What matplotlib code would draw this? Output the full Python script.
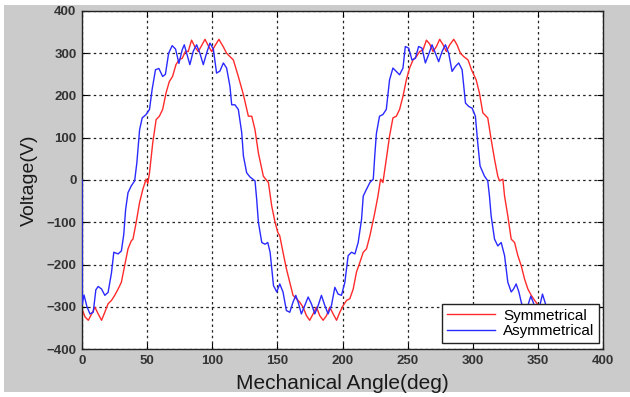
import matplotlib.pyplot as plt
from matplotlib.patches import Rectangle

# values (deg, V)
sym_angle = [0, 2.3, 4.8, 7.4, 9.9, 12.4, 15.0, 17.5, 20.0, 22.6, 25.1, 27.7, 30.2, 32.7,
             35.3, 37.8, 39.1, 41.6, 44.2, 46.7, 49.2, 50.5, 51.8, 54.3, 56.9, 59.4, 61.9,
             64.5, 67.0, 69.5, 72.1, 74.6, 76.9, 79.5, 81.5, 84.1, 86.7, 89.2, 91.8, 94.4,
             96.9, 99.5, 102.1, 105.1, 108.5, 111.0, 113.6, 116.2, 120.0, 123.9, 127.7,
             130.3, 132.8, 135.4, 139.2, 141.0, 143.1, 145.6, 148.2, 150.3, 151.8, 154.3,
             156.9, 159.5, 162.0, 164.6, 167.1, 169.7, 172.3, 174.8, 177.4, 180.0, 182.5,
             185.1, 187.7, 190.2, 192.8, 195.4, 197.9, 200.5, 203.1, 205.6, 208.2, 210.7,
             213.3, 215.9, 218.4, 221.0, 224.6, 227.2, 229.2, 231.0, 233.6, 236.1, 238.7,
             241.3, 243.8, 246.4, 249.0, 251.5, 254.1, 256.7, 259.2, 261.8, 264.4, 266.9,
             269.5, 272.1, 274.6, 277.2, 279.7, 282.3, 285.4, 287.9, 290.5, 293.1, 296.4,
             299.0, 302.6, 305.1, 307.7, 310.3, 311.5, 314.1, 316.7, 319.2, 320.5, 323.1,
             324.4, 326.9, 329.5, 332.1, 334.6, 337.2, 339.7, 342.3, 344.9, 347.5, 350.0,
             352.5, 355.0, 357.5, 360.0]
sym_volt = [-305, -324, -332, -317, -301, -317, -332, -313, -293, -285, -273, -258, -242, -203,
            -163, -144, -140, -100, -53, -22, 2, -8, 17, 88, 143, 151, 167,
            206, 233, 245, 273, 285, 288, 305, 304, 331, 315, 304, 318, 333,
            318, 304, 318, 333, 315, 300, 292, 284, 245, 202, 151,
            151, 119, 64, 9, 2, -6, -61, -100, -124, -132, -171,
            -210, -242, -273, -281, -289, -301, -321, -332, -317, -301, -321,
            -332, -321, -301, -317, -332, -313, -297, -285, -281, -258, -218,
            -195, -171, -163, -132, -80, -38, 2, -6, 49, 104, 147,
            151, 167, 198, 237, 265, 284, 292, 304, 308, 331, 322,
            304, 316, 333, 320, 304, 320, 333, 320, 300, 292, 284,
            261, 237, 206, 159, 151, 147, 96, 49, 9, -2, 2,
            -38, -85, -140, -148, -179, -203, -234, -258, -273, -285, -295,
            -315, -332, -317, -301]

asym_angle = [0, 0.1, 1.5, 3.8, 6.1, 8.6, 10.6, 12.4, 15.0, 17.5, 20.0, 22.6, 24.4, 27.7,
              30.2, 32.0, 33.5, 35.3, 37.8, 40.4, 42.1, 44.2, 46.2, 49.2, 51.8, 53.8, 56.4,
              59.0, 61.9, 64.0, 66.5, 69.2, 71.8, 74.4, 76.9, 78.5, 80.3, 82.8, 85.4, 88.0,
              90.5, 93.1, 95.6, 98.2, 100.8, 103.3, 105.9, 108.5, 111.0, 113.6, 114.9, 117.4,
              120.0, 122.6, 123.9, 126.4, 129.0, 132.8, 134.1, 135.4, 138.0, 140.5, 142.6,
              144.4, 147.0, 149.5, 151.8, 154.3, 156.9, 159.5, 162.0, 164.1, 165.9, 168.4,
              171.0, 173.6, 176.1, 178.7, 181.3, 183.8, 186.4, 188.9, 191.5, 194.1, 196.6,
              199.2, 201.8, 204.3, 206.9, 209.5, 212.0, 214.6, 215.9, 218.4, 221.0, 223.6,
              224.8, 226.0, 228.4, 231.0, 233.6, 236.1, 238.7, 241.3, 243.8, 246.4, 248.2,
              250.8, 253.3, 255.9, 258.4, 261.0, 263.6, 266.1, 268.7, 271.3, 273.8, 276.4,
              279.0, 281.5, 284.1, 286.7, 289.2, 291.8, 294.4, 296.9, 299.5, 302.0, 303.8,
              305.6, 309.0, 311.5, 312.8, 314.1, 316.7, 319.2, 321.8, 324.4, 326.9, 329.5,
              331.3, 333.3, 335.4, 337.2, 339.5, 342.0, 344.5, 346.5, 349.0, 351.5, 353.5,
              356.0, 358.5, 360.0]
asym_volt = [0, -295, -272, -300, -317, -313, -260, -252, -258, -273, -266, -220, -171, -175,
             -168, -130, -69, -30, -14, -2, 41, 119, 147, 155, 167, 214, 261,
             264, 245, 250, 300, 318, 310, 276, 308, 320, 300, 273, 305, 320,
             300, 273, 300, 324, 310, 253, 258, 277, 265, 221, 178, 178,
             167, 112, 57, 17, 7, -2, -46, -100, -148, -152, -148,
             -171, -250, -265, -246, -265, -309, -313, -289, -273, -289, -317,
             -297, -277, -293, -317, -297, -273, -297, -317, -297, -254, -270,
             -273, -242, -179, -171, -175, -148, -93, -38, -22, -6, 2,
             60, 110, 151, 155, 167, 237, 265, 257, 249, 265, 316,
             312, 284, 288, 316, 312, 277, 297, 320, 300, 280, 304,
             320, 300, 257, 269, 277, 261, 182, 174, 170, 151, 88,
             33, 9, -2, -38, -85, -140, -156, -148, -179, -242, -265,
             -258, -246, -265, -289, -313, -300, -275, -290, -317, -297, -270,
             -295, -317, -305]

x_ticks = [0, 50, 100, 150, 200, 250, 300, 350, 400]
y_ticks = [-400, -300, -200, -100, 0, 100, 200, 300, 400]

plt.rcParams['font.family'] = ['Liberation Sans', 'DejaVu Sans']

fig = plt.figure(figsize=(6.3, 3.97), dpi=100, facecolor='white')
# grey panel behind the plot, with a thin white margin like the screenshot
panel = Rectangle((4 / 630, 5 / 397), 626 / 630, 387 / 397,
                  transform=fig.transFigure, facecolor='#cbcbcb',
                  edgecolor='none', zorder=-10)
fig.add_artist(panel)

ax = fig.add_axes([0.1302, 0.1209, 0.827, 0.8514])
ax.set_facecolor('white')

ax.plot(sym_angle, sym_volt, color='#ff2a2a', lw=1.0, label='Symmetrical')
# blue sits above the spine so its jump at 0 deg shows like in the original
ax.plot(asym_angle, asym_volt, color='#2a2aff', lw=1.0, label='Asymmetrical', zorder=3)

ax.set_xlim(0, 400)
ax.set_ylim(-400, 400)
ax.set_xticks(x_ticks)
ax.set_yticks(y_ticks)
ax.grid(True, color='#222222', linestyle=(0, (2, 2.5)), linewidth=0.9)
ax.tick_params(direction='in', length=4, top=True, right=True,
               labelsize=9.5, labelcolor='#333333', pad=4)
for lab in ax.get_xticklabels() + ax.get_yticklabels():
    lab.set_fontweight('bold')
for s in ax.spines.values():
    s.set_linewidth(1.0)
    s.set_color('#222222')

ax.set_xlabel('Mechanical Angle(deg)', fontsize=15, color='#1a1a1a', labelpad=5)
ax.set_ylabel('Voltage(V)', fontsize=14, color='#1a1a1a', labelpad=6)

leg = ax.legend(loc='lower right', bbox_to_anchor=(0.992, 0.018), borderaxespad=0,
                fontsize=11, fancybox=False, framealpha=1, edgecolor='#222222',
                handlelength=3.2, handletextpad=0.5, labelspacing=0.1,
                borderpad=0.3)
leg.get_frame().set_linewidth(1.0)
leg.set_zorder(5)

fig.savefig('out.png', dpi=100, facecolor=fig.get_facecolor())
